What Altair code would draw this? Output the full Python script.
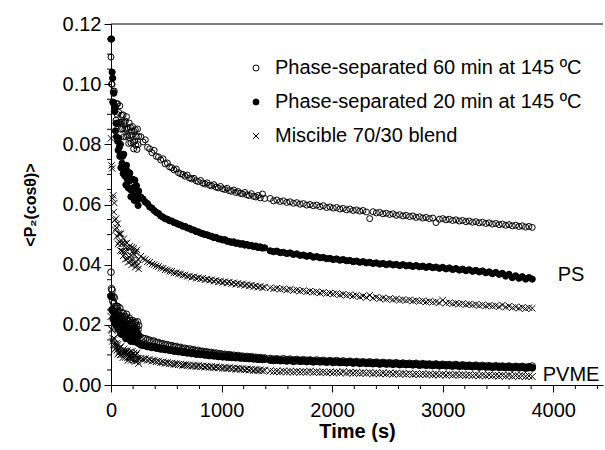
import altair as alt
import pandas as pd

# ---------------- data ----------------
T1 = [0, 5, 10, 15, 20, 25, 30, 35, 40, 45, 50, 55, 60, 65, 70, 75, 80, 85, 90, 95,
      100, 105, 110, 115, 120, 125, 130, 135, 140, 145, 150, 155, 160, 165, 170, 175, 180, 185, 190, 195,
      200, 205, 210, 215, 220, 225, 230, 235, 240, 245, 250]
T2 = [270, 290, 310, 330, 350, 370, 390, 410, 430, 450, 470, 490, 510, 530, 550, 570, 590, 610, 630, 650,
      670, 690, 710, 730, 750, 770, 790, 810, 830, 850, 870, 890, 910, 930, 950, 970, 990, 1010, 1030, 1050,
      1070, 1090, 1110, 1130, 1150, 1170, 1190, 1210, 1230, 1250, 1270, 1290, 1310, 1330, 1350, 1370, 1390]
T3 = [1440, 1470, 1500, 1530, 1560, 1590, 1620, 1650, 1680, 1710, 1740, 1770, 1800, 1830, 1860, 1890, 1920, 1950, 1980, 2010,
      2040, 2070, 2100, 2130, 2160, 2190, 2220, 2250, 2280, 2310, 2340, 2370, 2400, 2430, 2460, 2490, 2520, 2550, 2580, 2610,
      2640, 2670, 2700, 2730, 2760, 2790, 2820, 2850, 2880, 2910, 2940, 2970, 3000, 3030, 3060, 3090, 3120, 3150, 3180, 3210,
      3240, 3270, 3300, 3330, 3360, 3390, 3420, 3450, 3480, 3510, 3540, 3570, 3600, 3630, 3660, 3690, 3720, 3750, 3780, 3810]
TIME = T1 + T2 + T3

PS_60 = [0.1090, 0.1000, 0.1000, 0.0940, 0.0975, 0.0935, 0.0977, 0.0910, 0.0925, 0.0880,
         0.0935, 0.0900, 0.0935, 0.0870, 0.0906, 0.0872, 0.0928, 0.0874, 0.0850, 0.0897,
         0.0874, 0.0851, 0.0898, 0.0825, 0.0872, 0.0850, 0.0877, 0.0825, 0.0892, 0.0850,
         0.0828, 0.0855, 0.0803, 0.0871, 0.0829, 0.0857, 0.0805, 0.0843, 0.0831, 0.0859,
         0.0807, 0.0785, 0.0843, 0.0811, 0.0849, 0.0797, 0.0825, 0.0783, 0.0851, 0.0799,
         0.0827,
         0.0825, 0.0808, 0.0815, 0.0790, 0.0785, 0.0772, 0.0780, 0.0760, 0.0758, 0.0748,
         0.0752, 0.0735, 0.0738, 0.0725, 0.0722, 0.0715, 0.0718, 0.0706, 0.0702, 0.0700,
         0.0694, 0.0698, 0.0688, 0.0685, 0.0687, 0.0679, 0.0676, 0.0680, 0.0671, 0.0668,
         0.0672, 0.0664, 0.0662, 0.0666, 0.0658, 0.0655, 0.0660, 0.0652, 0.0650, 0.0654,
         0.0646, 0.0644, 0.0648, 0.0640, 0.0643, 0.0637, 0.0635, 0.0640, 0.0632, 0.0630,
         0.0636, 0.0627, 0.0625, 0.0630, 0.0622, 0.0635, 0.0620,
         0.0620, 0.0612, 0.0615, 0.0610, 0.0612, 0.0607, 0.0609, 0.0604, 0.0606, 0.0601,
         0.0603, 0.0598, 0.0600, 0.0596, 0.0598, 0.0593, 0.0596, 0.0590, 0.0592, 0.0588,
         0.0590, 0.0585, 0.0587, 0.0582, 0.0585, 0.0580, 0.0582, 0.0578, 0.0580, 0.0575,
         0.0553, 0.0576, 0.0572, 0.0574, 0.0569, 0.0571, 0.0567, 0.0569, 0.0564, 0.0566,
         0.0562, 0.0564, 0.0560, 0.0562, 0.0557, 0.0559, 0.0555, 0.0557, 0.0553, 0.0555,
         0.0540, 0.0551, 0.0553, 0.0549, 0.0551, 0.0547, 0.0549, 0.0545, 0.0547, 0.0543,
         0.0545, 0.0541, 0.0543, 0.0539, 0.0541, 0.0537, 0.0539, 0.0535, 0.0537, 0.0533,
         0.0535, 0.0531, 0.0533, 0.0529, 0.0531, 0.0527, 0.0529, 0.0525, 0.0527, 0.0524]

PS_20 = [0.1150, 0.1150, 0.1040, 0.1020, 0.0940, 0.0970, 0.0910, 0.0925, 0.0845, 0.0870,
         0.0825, 0.0870, 0.0810, 0.0780, 0.0820, 0.0790, 0.0760, 0.0800, 0.0722, 0.0764,
         0.0737, 0.0760, 0.0703, 0.0767, 0.0721, 0.0695, 0.0720, 0.0665, 0.0730, 0.0685,
         0.0710, 0.0656, 0.0692, 0.0678, 0.0704, 0.0650, 0.0626, 0.0682, 0.0648, 0.0684,
         0.0630, 0.0657, 0.0614, 0.0681, 0.0627, 0.0655, 0.0663, 0.0611, 0.0630, 0.0597,
         0.0645,
         0.0625, 0.0618, 0.0608, 0.0603, 0.0592, 0.0588, 0.0580, 0.0574, 0.0570, 0.0562,
         0.0558, 0.0553, 0.0551, 0.0546, 0.0545, 0.0540, 0.0538, 0.0534, 0.0532, 0.0528,
         0.0527, 0.0522, 0.0521, 0.0516, 0.0515, 0.0510, 0.0509, 0.0505, 0.0503, 0.0500,
         0.0499, 0.0496, 0.0494, 0.0490, 0.0491, 0.0486, 0.0485, 0.0482, 0.0483, 0.0478,
         0.0477, 0.0474, 0.0476, 0.0471, 0.0472, 0.0468, 0.0470, 0.0465, 0.0467, 0.0463,
         0.0464, 0.0460, 0.0462, 0.0457, 0.0459, 0.0455, 0.0456,
         0.0446, 0.0443, 0.0445, 0.0440, 0.0441, 0.0437, 0.0439, 0.0434, 0.0436, 0.0431,
         0.0432, 0.0428, 0.0430, 0.0425, 0.0427, 0.0423, 0.0424, 0.0420, 0.0421, 0.0417,
         0.0419, 0.0415, 0.0417, 0.0413, 0.0414, 0.0410, 0.0412, 0.0408, 0.0410, 0.0406,
         0.0408, 0.0404, 0.0406, 0.0402, 0.0404, 0.0400, 0.0403, 0.0399, 0.0401, 0.0397,
         0.0400, 0.0396, 0.0398, 0.0394, 0.0397, 0.0393, 0.0395, 0.0391, 0.0394, 0.0390,
         0.0392, 0.0388, 0.0391, 0.0386, 0.0389, 0.0384, 0.0387, 0.0382, 0.0385, 0.0380,
         0.0383, 0.0378, 0.0381, 0.0376, 0.0379, 0.0373, 0.0376, 0.0370, 0.0374, 0.0368,
         0.0371, 0.0362, 0.0368, 0.0357, 0.0363, 0.0355, 0.0360, 0.0352, 0.0357, 0.0352]

PS_MIS = [0.0820, 0.0730, 0.0720, 0.0620, 0.0630, 0.0575, 0.0605, 0.0548, 0.0515, 0.0553,
          0.0523, 0.0494, 0.0536, 0.0469, 0.0503, 0.0477, 0.0502, 0.0447, 0.0503, 0.0469,
          0.0445, 0.0472, 0.0429, 0.0486, 0.0443, 0.0470, 0.0418, 0.0456, 0.0444, 0.0472,
          0.0420, 0.0408, 0.0456, 0.0424, 0.0462, 0.0411, 0.0431, 0.0399, 0.0458, 0.0416,
          0.0446, 0.0455, 0.0404, 0.0433, 0.0392, 0.0441, 0.0409, 0.0449, 0.0398, 0.0417,
          0.0386,
          0.0428, 0.0420, 0.0417, 0.0410, 0.0408, 0.0402, 0.0400, 0.0396, 0.0394, 0.0389,
          0.0388, 0.0383, 0.0382, 0.0378, 0.0378, 0.0373, 0.0373, 0.0369, 0.0370, 0.0365,
          0.0366, 0.0361, 0.0362, 0.0358, 0.0360, 0.0355, 0.0357, 0.0353, 0.0355, 0.0350,
          0.0352, 0.0348, 0.0350, 0.0345, 0.0348, 0.0343, 0.0345, 0.0341, 0.0344, 0.0339,
          0.0342, 0.0337, 0.0340, 0.0335, 0.0338, 0.0333, 0.0336, 0.0331, 0.0334, 0.0329,
          0.0332, 0.0327, 0.0330, 0.0325, 0.0328, 0.0323, 0.0326,
          0.0323, 0.0320, 0.0322, 0.0318, 0.0320, 0.0316, 0.0318, 0.0314, 0.0316, 0.0312,
          0.0314, 0.0310, 0.0312, 0.0308, 0.0310, 0.0306, 0.0308, 0.0304, 0.0306, 0.0302,
          0.0304, 0.0300, 0.0302, 0.0298, 0.0300, 0.0296, 0.0298, 0.0293, 0.0296, 0.0291,
          0.0298, 0.0289, 0.0292, 0.0287, 0.0290, 0.0285, 0.0288, 0.0284, 0.0286, 0.0282,
          0.0284, 0.0281, 0.0283, 0.0279, 0.0281, 0.0278, 0.0280, 0.0276, 0.0278, 0.0275,
          0.0277, 0.0273, 0.0282, 0.0272, 0.0274, 0.0270, 0.0272, 0.0269, 0.0271, 0.0267,
          0.0269, 0.0266, 0.0268, 0.0264, 0.0267, 0.0263, 0.0265, 0.0262, 0.0264, 0.0260,
          0.0266, 0.0259, 0.0262, 0.0257, 0.0260, 0.0255, 0.0258, 0.0254, 0.0257, 0.0255]

PVME_60 = [0.0375, 0.0320, 0.0315, 0.0280, 0.0294, 0.0271, 0.0290, 0.0255, 0.0260, 0.0236,
           0.0262, 0.0244, 0.0261, 0.0228, 0.0245, 0.0228, 0.0256, 0.0229, 0.0217, 0.0240,
           0.0228, 0.0216, 0.0239, 0.0202, 0.0226, 0.0214, 0.0228, 0.0201, 0.0235, 0.0213,
           0.0202, 0.0215, 0.0189, 0.0222, 0.0201, 0.0214, 0.0188, 0.0207, 0.0200, 0.0214,
           0.0188, 0.0177, 0.0206, 0.0190, 0.0209, 0.0183, 0.0197, 0.0176, 0.0210, 0.0184,
           0.0198,
           0.0158, 0.0155, 0.0154, 0.0150, 0.0149, 0.0145, 0.0146, 0.0141, 0.0141, 0.0137,
           0.0137, 0.0133, 0.0134, 0.0130, 0.0131, 0.0127, 0.0128, 0.0124, 0.0125, 0.0121,
           0.0122, 0.0118, 0.0120, 0.0116, 0.0117, 0.0113, 0.0115, 0.0111, 0.0112, 0.0109,
           0.0110, 0.0107, 0.0108, 0.0105, 0.0106, 0.0103, 0.0104, 0.0101, 0.0102, 0.0099,
           0.0101, 0.0098, 0.0099, 0.0096, 0.0098, 0.0095, 0.0096, 0.0093, 0.0095, 0.0092,
           0.0094, 0.0091, 0.0092, 0.0089, 0.0091, 0.0088, 0.0090,
           0.0088, 0.0086, 0.0087, 0.0085, 0.0087, 0.0084, 0.0086, 0.0083, 0.0085, 0.0082,
           0.0084, 0.0082, 0.0083, 0.0081, 0.0083, 0.0080, 0.0082, 0.0079, 0.0081, 0.0079,
           0.0081, 0.0078, 0.0080, 0.0077, 0.0079, 0.0076, 0.0078, 0.0076, 0.0077, 0.0075,
           0.0077, 0.0074, 0.0076, 0.0073, 0.0075, 0.0073, 0.0074, 0.0072, 0.0074, 0.0071,
           0.0073, 0.0071, 0.0072, 0.0070, 0.0072, 0.0069, 0.0071, 0.0069, 0.0070, 0.0068,
           0.0070, 0.0067, 0.0069, 0.0067, 0.0068, 0.0066, 0.0068, 0.0065, 0.0067, 0.0065,
           0.0066, 0.0064, 0.0066, 0.0063, 0.0065, 0.0063, 0.0064, 0.0062, 0.0064, 0.0062,
           0.0063, 0.0061, 0.0063, 0.0060, 0.0062, 0.0060, 0.0062, 0.0059, 0.0061, 0.0063]

PVME_20 = [0.0295, 0.0295, 0.0250, 0.0248, 0.0220, 0.0243, 0.0222, 0.0237, 0.0203, 0.0219,
           0.0200, 0.0227, 0.0199, 0.0186, 0.0208, 0.0196, 0.0184, 0.0207, 0.0170, 0.0193,
           0.0181, 0.0194, 0.0167, 0.0201, 0.0179, 0.0168, 0.0181, 0.0155, 0.0189, 0.0168,
           0.0182, 0.0156, 0.0175, 0.0169, 0.0183, 0.0157, 0.0146, 0.0175, 0.0159, 0.0178,
           0.0152, 0.0166, 0.0145, 0.0179, 0.0153, 0.0167, 0.0172, 0.0146, 0.0161, 0.0140,
           0.0165,
           0.0134, 0.0132, 0.0131, 0.0128, 0.0128, 0.0125, 0.0126, 0.0123, 0.0123, 0.0120,
           0.0121, 0.0118, 0.0118, 0.0116, 0.0116, 0.0113, 0.0114, 0.0111, 0.0112, 0.0109,
           0.0110, 0.0107, 0.0108, 0.0105, 0.0106, 0.0103, 0.0104, 0.0102, 0.0102, 0.0100,
           0.0101, 0.0098, 0.0099, 0.0097, 0.0098, 0.0095, 0.0096, 0.0094, 0.0095, 0.0093,
           0.0094, 0.0092, 0.0093, 0.0091, 0.0092, 0.0090, 0.0091, 0.0089, 0.0090, 0.0088,
           0.0089, 0.0087, 0.0088, 0.0086, 0.0087, 0.0085, 0.0086,
           0.0083, 0.0082, 0.0083, 0.0081, 0.0082, 0.0080, 0.0082, 0.0079, 0.0081, 0.0079,
           0.0080, 0.0078, 0.0080, 0.0077, 0.0079, 0.0077, 0.0078, 0.0076, 0.0078, 0.0075,
           0.0077, 0.0075, 0.0076, 0.0074, 0.0076, 0.0073, 0.0075, 0.0072, 0.0074, 0.0072,
           0.0073, 0.0071, 0.0073, 0.0070, 0.0072, 0.0070, 0.0071, 0.0069, 0.0071, 0.0068,
           0.0070, 0.0068, 0.0069, 0.0067, 0.0069, 0.0066, 0.0068, 0.0066, 0.0067, 0.0065,
           0.0067, 0.0064, 0.0066, 0.0064, 0.0065, 0.0063, 0.0065, 0.0062, 0.0064, 0.0062,
           0.0063, 0.0061, 0.0063, 0.0060, 0.0062, 0.0060, 0.0061, 0.0059, 0.0061, 0.0059,
           0.0060, 0.0058, 0.0060, 0.0057, 0.0059, 0.0057, 0.0059, 0.0056, 0.0058, 0.0057]

PVME_MIS = [0.0228, 0.0186, 0.0182, 0.0146, 0.0154, 0.0136, 0.0155, 0.0131, 0.0120, 0.0137,
            0.0126, 0.0116, 0.0134, 0.0104, 0.0122, 0.0112, 0.0123, 0.0101, 0.0128, 0.0111,
            0.0102, 0.0113, 0.0092, 0.0119, 0.0102, 0.0113, 0.0092, 0.0107, 0.0102, 0.0113,
            0.0092, 0.0083, 0.0107, 0.0094, 0.0109, 0.0089, 0.0100, 0.0083, 0.0111, 0.0090,
            0.0102, 0.0105, 0.0084, 0.0096, 0.0079, 0.0099, 0.0086, 0.0106, 0.0081, 0.0089,
            0.0072,
            0.0088, 0.0086, 0.0087, 0.0083, 0.0084, 0.0080, 0.0081, 0.0078, 0.0079, 0.0075,
            0.0076, 0.0073, 0.0074, 0.0071, 0.0072, 0.0069, 0.0070, 0.0068, 0.0069, 0.0066,
            0.0067, 0.0065, 0.0066, 0.0063, 0.0065, 0.0062, 0.0064, 0.0061, 0.0063, 0.0060,
            0.0062, 0.0059, 0.0061, 0.0058, 0.0060, 0.0057, 0.0059, 0.0056, 0.0058, 0.0055,
            0.0057, 0.0054, 0.0056, 0.0053, 0.0055, 0.0052, 0.0054, 0.0051, 0.0053, 0.0050,
            0.0052, 0.0049, 0.0051, 0.0048, 0.0050, 0.0047, 0.0049,
            0.0047, 0.0045, 0.0046, 0.0044, 0.0046, 0.0044, 0.0045, 0.0043, 0.0045, 0.0043,
            0.0044, 0.0043, 0.0045, 0.0042, 0.0044, 0.0042, 0.0043, 0.0041, 0.0043, 0.0041,
            0.0042, 0.0041, 0.0044, 0.0040, 0.0042, 0.0040, 0.0041, 0.0039, 0.0041, 0.0039,
            0.0041, 0.0038, 0.0040, 0.0038, 0.0040, 0.0037, 0.0039, 0.0037, 0.0039, 0.0036,
            0.0038, 0.0036, 0.0038, 0.0035, 0.0037, 0.0035, 0.0037, 0.0035, 0.0036, 0.0034,
            0.0036, 0.0034, 0.0036, 0.0033, 0.0035, 0.0033, 0.0035, 0.0033, 0.0034, 0.0032,
            0.0034, 0.0032, 0.0034, 0.0031, 0.0033, 0.0031, 0.0033, 0.0031, 0.0032, 0.0030,
            0.0032, 0.0030, 0.0032, 0.0029, 0.0031, 0.0029, 0.0031, 0.0029, 0.0030, 0.0028]

S60 = "Phase-separated 60 min at 145 ºC"
S20 = "Phase-separated 20 min at 145 ºC"
SMIS = "Miscible 70/30 blend"
SAMPLES = [S60, S20, SMIS]

X_MAJOR = [0, 1000, 2000, 3000, 4000]
X_MINOR = [200, 400, 600, 800, 1200, 1400, 1600, 1800, 2200, 2400, 2600, 2800, 3200, 3400, 3600, 3800, 4200, 4400]
Y_MAJOR = [0.0, 0.02, 0.04, 0.06, 0.08, 0.10, 0.12]
Y_MINOR = [0.005, 0.01, 0.015, 0.025, 0.03, 0.035, 0.045, 0.05, 0.055, 0.065, 0.07, 0.075,
           0.085, 0.09, 0.095, 0.105, 0.11, 0.115]
Y_TOP = [0.12]

LABELS = ["PS", "PVME"]
LABEL_T = [4040, 3905]
LABEL_V = [0.0364, 0.0034]

# ---------------- build table ----------------
rows = []
for sample, polymer, values in [(S60, "PS", PS_60), (S20, "PS", PS_20), (SMIS, "PS", PS_MIS),
                                (S60, "PVME", PVME_60), (S20, "PVME", PVME_20), (SMIS, "PVME", PVME_MIS)]:
    for t, v in zip(TIME, values):
        rows.append({"t": t, "v": v, "sample": sample, "kind": sample + "|" + polymer})
df = pd.DataFrame(rows)

FONT = "Liberation Sans"
CROSS = "M-1,-1L1,1M-1,1L1,-1"
W, H = 492, 361

x_scale = alt.Scale(domain=[0, 4450], nice=False, zero=False)
y_scale = alt.Scale(domain=[0, 0.12], nice=False, zero=False)
x_axis = alt.Axis(values=X_MAJOR, title="Time (s)", tickSize=7, labelPadding=8, titlePadding=1,
                  format="d", labelFlush=False, labelOverlap=False)
y_axis = alt.Axis(values=Y_MAJOR, format=".2f", title="<P₂(cosθ)>", tickSize=7,
                  labelPadding=3, titlePadding=24, titleFontSize=16, labelFlush=False, labelOverlap=False)

legend = alt.Legend(title=None, orient="none", legendX=135, legendY=34,
                    labelFont=FONT, labelFontSize=20, labelColor="black", labelLimit=500,
                    symbolSize=36, symbolStrokeWidth=1, symbolStrokeColor="black",
                    rowPadding=14, labelOffset=9, padding=0)

kinds = [S60 + "|PS", S20 + "|PS", SMIS + "|PS", S60 + "|PVME", S20 + "|PVME", SMIS + "|PVME"]

points = alt.Chart(df).mark_point(filled=False, strokeWidth=1, opacity=1).encode(
    x=alt.X("t:Q", scale=x_scale, axis=x_axis),
    y=alt.Y("v:Q", scale=y_scale, axis=y_axis),
    shape=alt.Shape("sample:N", scale=alt.Scale(domain=SAMPLES, range=["circle", "circle", CROSS]), legend=legend),
    fill=alt.Fill("sample:N", scale=alt.Scale(domain=SAMPLES, range=["transparent", "black", "transparent"]), legend=legend),
    stroke=alt.Stroke("sample:N", scale=alt.Scale(domain=SAMPLES, range=["black", "black", "black"]), legend=legend),
    size=alt.Size("kind:O", scale=alt.Scale(domain=kinds, range=[36, 50, 30, 10, 10, 9]), legend=None),
)

labels_df = pd.DataFrame({"t": LABEL_T, "v": LABEL_V, "label": LABELS})
texts = alt.Chart(labels_df).mark_text(align="left", baseline="middle", font=FONT, fontSize=20, color="black").encode(
    x=alt.X("t:Q", scale=x_scale, axis=x_axis),
    y=alt.Y("v:Q", scale=y_scale, axis=y_axis),
    text="label:N",
)

# minor ticks, positioned through the scales
xminor = alt.Chart(pd.DataFrame({"t": X_MINOR})).mark_rule(color="black", strokeWidth=1).encode(
    x=alt.X("t:Q", scale=x_scale, axis=x_axis),
    y=alt.value(H), y2=alt.value(H + 4),
)
yminor = alt.Chart(pd.DataFrame({"v": Y_MINOR})).mark_rule(color="black", strokeWidth=1).encode(
    y=alt.Y("v:Q", scale=y_scale, axis=y_axis),
    x=alt.value(0), x2=alt.value(-4),
)
# top frame line at y = 0.12
topline = alt.Chart(pd.DataFrame({"v": Y_TOP})).mark_rule(color="black", strokeWidth=1).encode(
    y=alt.Y("v:Q", scale=y_scale, axis=y_axis),
)

chart = alt.layer(points, texts, xminor, yminor, topline).properties(
    width=W, height=H,
    autosize=alt.AutoSizeParams(type="none"),
    padding={"left": 111, "top": 24, "right": 2, "bottom": 65},
).configure_view(stroke=None).configure_axis(
    labelFont=FONT, labelFontSize=20, labelColor="black",
    titleFont=FONT, titleFontSize=20, titleFontWeight="bold", titleColor="black",
    domainColor="black", domainWidth=1, tickColor="black", tickWidth=1, grid=False,
)

chart.save("out.html", embed_options={"renderer": "svg", "actions": False})
